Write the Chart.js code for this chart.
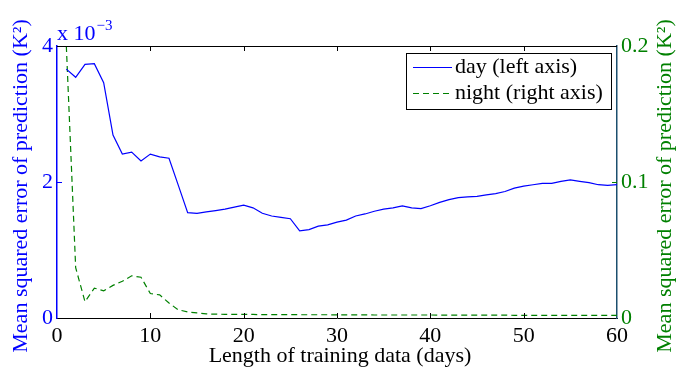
<!DOCTYPE html>
<html>
<head>
<meta charset="utf-8">
<script src="https://cdn.jsdelivr.net/npm/chart.js@4.4.0/dist/chart.umd.min.js"></script>
<style>
  html, body { margin: 0; padding: 0; background: #fff; }
  #wrap { width: 679px; height: 367px; position: relative; }
</style>
</head>
<body>
<div id="wrap"><canvas id="mseChart"></canvas></div>
<script>
// Length of training data (days)
const days = [1, 2, 3, 4, 5, 6, 7, 8, 9, 10, 11, 12, 13, 14, 15, 16, 17, 18, 19, 20,
    21, 22, 23, 24, 25, 26, 27, 28, 29, 30, 31, 32, 33, 34, 35, 36, 37, 38, 39, 40,
    41, 42, 43, 44, 45, 46, 47, 48, 49, 50, 51, 52, 53, 54, 55, 56, 57, 58, 59, 60];

// Day MSE, in units of 10^-3 K^2 (left axis)
const dayMse = [3.66, 3.54, 3.73, 3.74, 3.46, 2.69, 2.41, 2.44, 2.31, 2.41,
    2.37, 2.35, 1.95, 1.55, 1.54, 1.56, 1.58, 1.60, 1.63, 1.66,
    1.62, 1.54, 1.50, 1.48, 1.46, 1.28, 1.30, 1.35, 1.37, 1.41,
    1.44, 1.50, 1.53, 1.57, 1.60, 1.62, 1.65, 1.62, 1.61, 1.65,
    1.70, 1.74, 1.77, 1.78, 1.79, 1.81, 1.83, 1.86, 1.91, 1.94,
    1.96, 1.98, 1.98, 2.01, 2.03, 2.01, 1.99, 1.96, 1.95, 1.96];

// Night MSE in K^2 (right axis)
const nightMse = [0.200, 0.037, 0.012, 0.022, 0.020, 0.024, 0.027, 0.031, 0.030, 0.018,
    0.017, 0.011, 0.006, 0.0045, 0.0037, 0.0030, 0.0028, 0.0027, 0.0026, 0.0026,
    0.0026, 0.0025, 0.0025, 0.0025, 0.0025, 0.0024, 0.0024, 0.0024, 0.0024, 0.0023,
    0.0023, 0.0023, 0.0023, 0.0022, 0.0022, 0.0022, 0.0022, 0.0022, 0.0022, 0.0022,
    0.0021, 0.0021, 0.0021, 0.0021, 0.0021, 0.0021, 0.0021, 0.0021, 0.0020, 0.0020,
    0.0020, 0.0020, 0.0020, 0.0020, 0.0020, 0.0020, 0.0020, 0.0020, 0.0020, 0.0020];

const xTicks = [0, 10, 20, 30, 40, 50, 60];
const leftTicks = [0, 2, 4];
const rightTicks = [0, 0.1, 0.2];

const seriesLabels = ['day (left axis)', 'night (right axis)'];

const BLUE = '#0000ff';
const GREEN = '#008000';
const RIGHT_AXIS = '#1c4f6e';
const SERIF = '"Liberation Serif", "Times New Roman", serif';
const FS = 22;

// inward ticks, top frame, multiplier, legend and axis titles (MATLAB look)
const matlabBits = {
    id: 'matlabBits',
    afterDraw(chart) {
        const ctx = chart.ctx;
        const a = chart.chartArea;
        const xs = chart.scales.x, yl = chart.scales.y, yr = chart.scales.y1;
        const tl = 5;
        ctx.save();
        ctx.lineWidth = 1;

        // top frame line
        ctx.strokeStyle = '#000';
        ctx.beginPath();
        ctx.moveTo(a.left, a.top + 0.5);
        ctx.lineTo(a.right, a.top + 0.5);
        ctx.stroke();

        // x ticks, bottom and top
        xs.ticks.forEach(t => {
            if (t.value === xs.min || t.value === xs.max) return;
            const px = Math.round(xs.getPixelForValue(t.value)) + 0.5;
            ctx.beginPath();
            ctx.moveTo(px, a.bottom); ctx.lineTo(px, a.bottom - tl);
            ctx.moveTo(px, a.top); ctx.lineTo(px, a.top + tl);
            ctx.stroke();
        });
        // left ticks
        ctx.strokeStyle = BLUE;
        yl.ticks.forEach(t => {
            if (t.value === yl.min || t.value === yl.max) return;
            const py = Math.round(yl.getPixelForValue(t.value)) + 0.5;
            ctx.beginPath();
            ctx.moveTo(a.left, py); ctx.lineTo(a.left + tl, py);
            ctx.stroke();
        });
        // right ticks
        ctx.strokeStyle = GREEN;
        yr.ticks.forEach(t => {
            if (t.value === yr.min || t.value === yr.max) return;
            const py = Math.round(yr.getPixelForValue(t.value)) + 0.5;
            ctx.beginPath();
            ctx.moveTo(a.right, py); ctx.lineTo(a.right - tl, py);
            ctx.stroke();
        });

        // x 10^-3 multiplier
        ctx.fillStyle = BLUE;
        ctx.textBaseline = 'alphabetic';
        ctx.textAlign = 'left';
        ctx.font = FS + 'px ' + SERIF;
        ctx.fillText('x 10', a.left, a.top - 6);
        const w = ctx.measureText('x 10').width;
        ctx.font = '15px ' + SERIF;
        ctx.fillText('\u22123', a.left + w + 1, a.top - 16);

        // legend box
        const lx = 406, ly = 53, lw = 205, lh = 56;
        ctx.fillStyle = '#fff';
        ctx.fillRect(lx, ly, lw, lh);
        ctx.strokeStyle = '#000';
        ctx.strokeRect(lx + 0.5, ly + 0.5, lw, lh);
        ctx.font = FS + 'px ' + SERIF;
        ctx.textBaseline = 'middle';
        chart.data.datasets.forEach((ds, i) => {
            const cy = ly + 14 + i * 26;
            ctx.strokeStyle = ds.borderColor;
            ctx.lineWidth = 1.2;
            ctx.setLineDash(ds.borderDash || []);
            ctx.beginPath();
            ctx.moveTo(lx + 7, cy + 0.5);
            ctx.lineTo(lx + 46, cy + 0.5);
            ctx.stroke();
            ctx.setLineDash([]);
            ctx.fillStyle = '#000';
            ctx.fillText(ds.label, lx + 49, cy);
        });

        // axis titles
        const drawTitle = (x, y, color) => {
            ctx.save();
            ctx.translate(x, y);
            ctx.rotate(-Math.PI / 2);
            ctx.fillStyle = color;
            ctx.textAlign = 'center';
            ctx.textBaseline = 'middle';
            ctx.font = FS + 'px ' + SERIF;
            ctx.fillText('Mean squared error of prediction (K\u00b2)', 0, 0);
            ctx.restore();
        };
        drawTitle(21, 186, BLUE);
        drawTitle(665, 186, GREEN);

        ctx.fillStyle = '#000';
        ctx.textAlign = 'center';
        ctx.textBaseline = 'middle';
        ctx.font = FS + 'px ' + SERIF;
        ctx.fillText('Length of training data (days)', (a.left + a.right) / 2 + 3, 356);
        ctx.restore();
    }
};

const ctx = document.getElementById('mseChart').getContext('2d');
const mseChart = new Chart(ctx, {
    type: 'line',
    data: {
        datasets: [
            {
                label: seriesLabels[0],
                data: days.map((d, i) => ({ x: d, y: dayMse[i] })),
                borderColor: BLUE,
                borderWidth: 1.2,
                pointRadius: 0,
                tension: 0,
                yAxisID: 'y'
            },
            {
                label: seriesLabels[1],
                data: days.map((d, i) => ({ x: d, y: nightMse[i] })),
                borderColor: GREEN,
                borderWidth: 1.2,
                borderDash: [6, 4],
                pointRadius: 0,
                tension: 0,
                yAxisID: 'y1'
            }
        ]
    },
    options: {
        responsive: true,
        maintainAspectRatio: false,
        animation: false,
        layout: { padding: { top: 46, left: 0, right: 0, bottom: 0 } },
        plugins: {
            legend: { display: false },
            tooltip: { enabled: false }
        },
        scales: {
            x: {
                type: 'linear',
                min: 0,
                max: 60,
                afterBuildTicks: s => { s.ticks = xTicks.map(v => ({ value: v })); },
                afterFit: s => { s.height = 49; },
                grid: { drawOnChartArea: false, drawTicks: false },
                border: { color: '#000', width: 1 },
                ticks: { color: '#000', padding: 5, font: { family: SERIF, size: FS } }
            },
            y: {
                position: 'left',
                min: 0,
                max: 4,
                afterBuildTicks: s => { s.ticks = leftTicks.map(v => ({ value: v })); },
                afterFit: s => { s.width = 57; },
                grid: { drawOnChartArea: false, drawTicks: false },
                border: { color: BLUE, width: 1.5 },
                ticks: { color: BLUE, padding: 4, font: { family: SERIF, size: FS } }
            },
            y1: {
                position: 'right',
                min: 0,
                max: 0.2,
                afterBuildTicks: s => { s.ticks = rightTicks.map(v => ({ value: v })); },
                afterFit: s => { s.width = 62; },
                grid: { drawOnChartArea: false, drawTicks: false },
                border: { color: RIGHT_AXIS, width: 1.5 },
                ticks: {
                    color: GREEN,
                    padding: 4,
                    font: { family: SERIF, size: FS },
                    callback: v => (v === 0 ? '0' : String(v))
                }
            }
        }
    },
    plugins: [matlabBits]
});
</script>
</body>
</html>
